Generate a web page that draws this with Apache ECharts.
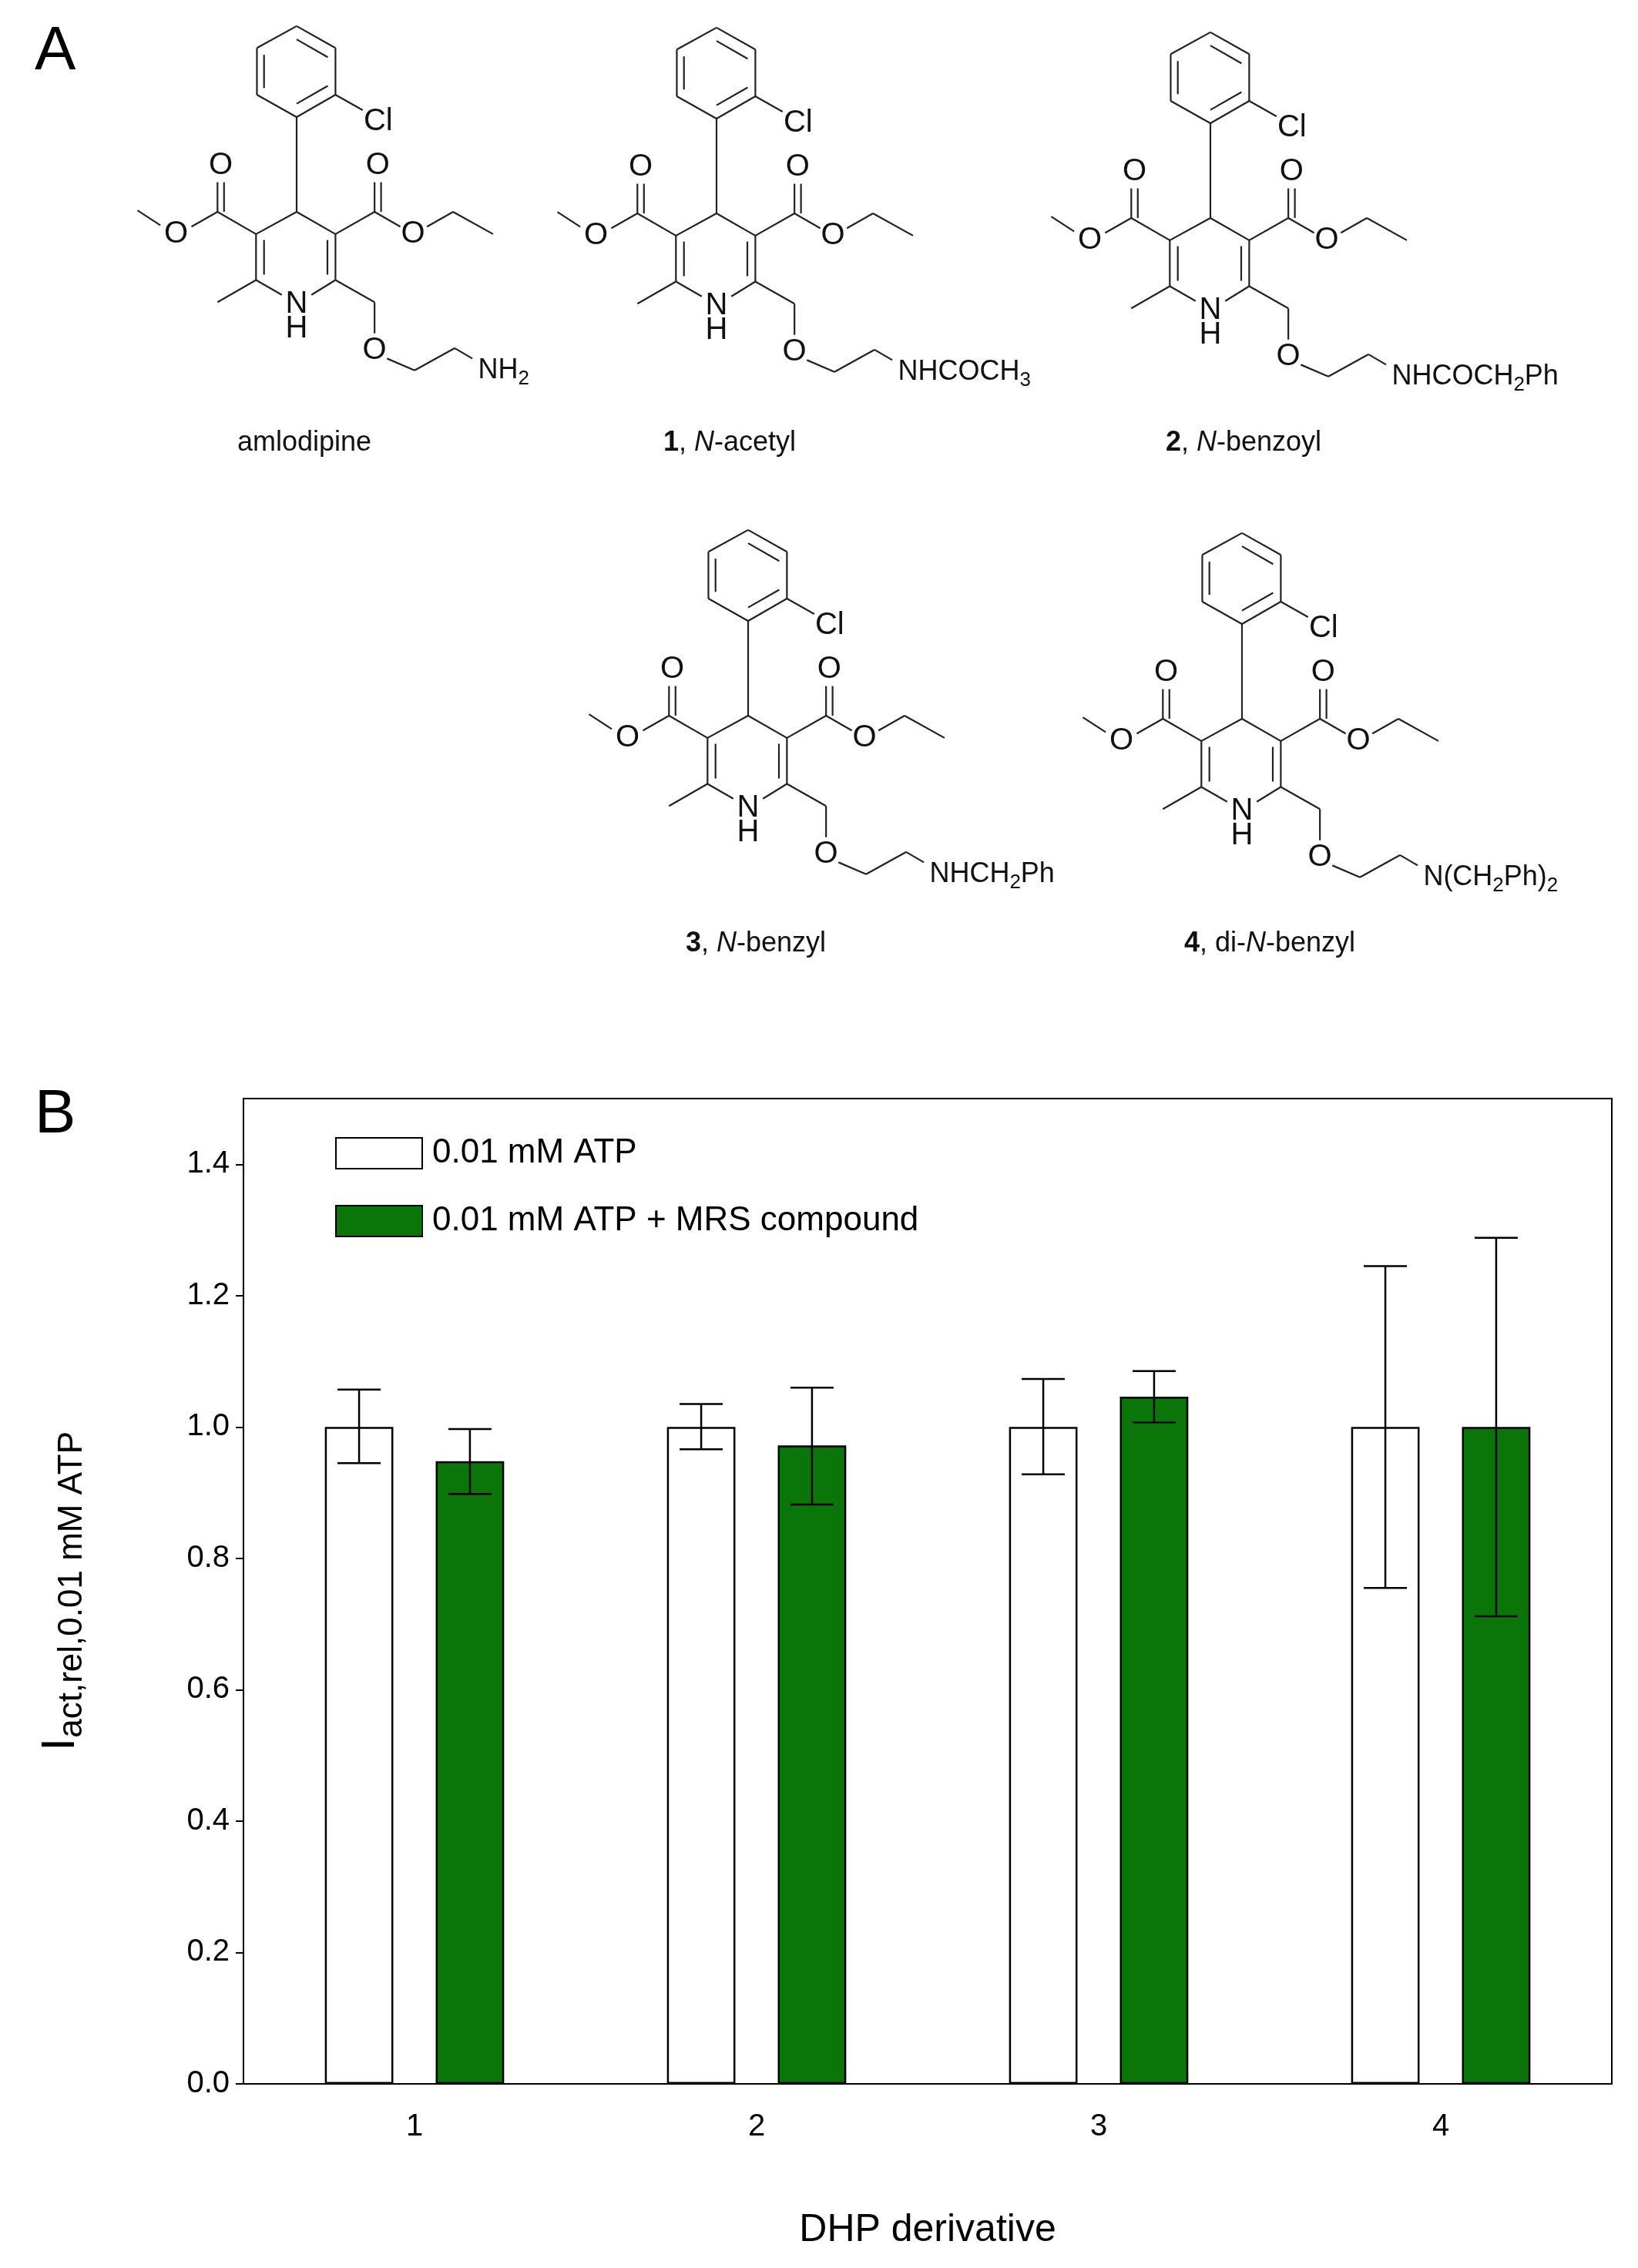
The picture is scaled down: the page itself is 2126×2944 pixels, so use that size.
<!DOCTYPE html>
<html>
<head>
<meta charset="utf-8">
<script src="https://cdn.jsdelivr.net/npm/echarts@6/dist/echarts.min.js"></script>
<style>
  html, body { margin: 0; padding: 0; background: #fff; }
  #main { width: 2126px; height: 2944px; }
</style>
</head>
<body>
<div id="main"></div>
<script>
// panel B data
const categories = ['1', '2', '3', '4'];
const atpValues = [1.0, 1.0, 1.0, 1.0];
const atpLow = [0.945, 0.966, 0.928, 0.755];
const atpHigh = [1.057, 1.035, 1.073, 1.245];
const mrsValues = [0.948, 0.972, 1.046, 1.0];
const mrsLow = [0.898, 0.882, 1.007, 0.712];
const mrsHigh = [0.997, 1.060, 1.085, 1.288];
const yTicks = [0, 0.2, 0.4, 0.6, 0.8, 1.0, 1.2, 1.4];

// panel A: compounds (C4 position of the dihydropyridine ring, tail text, caption)
const compounds = [
  { x: 385, y: 275, tail: 'NH{s|2}', cap: 'amlodipine', capX: 395, capY: 575 },
  { x: 930, y: 277, tail: 'NHCOCH{s|3}', cap: '{b|1}, {i|N}-acetyl', capX: 947, capY: 575 },
  { x: 1571, y: 283, tail: 'NHCOCH{s|2}Ph', cap: '{b|2}, {i|N}-benzoyl', capX: 1614, capY: 575 },
  { x: 971, y: 929, tail: 'NHCH{s|2}Ph', cap: '{b|3}, {i|N}-benzyl', capX: 981, capY: 1225 },
  { x: 1612, y: 933, tail: 'N(CH{s|2}Ph){s|2}', cap: '{b|4}, di-{i|N}-benzyl', capX: 1648, capY: 1225 }
];

const FONT = 'Liberation Sans, Arial, sans-serif';
const S = 1 / 2.6;

// skeleton bonds, relative to C4
const bonds = [
  [[0,-627],[131,-553]], [[131,-553],[131,-395]], [[131,-395],[0,-320]],
  [[0,-320],[-134,-395]], [[-134,-395],[-134,-553]], [[-134,-553],[0,-627]],
  [[0,-582],[105,-522]], [[105,-425],[0,-365]], [[-110,-530],[-110,-418]],
  [[131,-395],[223,-343]],
  [[0,-320],[0,0]],
  [[0,0],[-137,75]], [[0,0],[131,75]],
  [[-137,75],[-137,230]], [[-110,95],[-110,212]],
  [[131,75],[131,230]], [[104,95],[104,212]],
  [[-137,230],[-50,280]], [[131,230],[50,280]],
  [[-137,230],[-267,305]],
  [[-137,75],[-267,0]], [[-267,0],[-267,-100]], [[-245,0],[-245,-100]],
  [[-267,0],[-355,50]], [[-460,45],[-537,-5]],
  [[131,75],[263,0]], [[263,0],[263,-100]], [[285,0],[285,-100]],
  [[263,0],[350,50]], [[440,50],[528,0]], [[528,0],[663,75]],
  [[131,230],[263,305]], [[263,305],[263,410]],
  [[305,495],[398,535]], [[398,535],[533,460]], [[533,460],[593,495]]
];
const atoms = [
  ['Cl', 275, -305], ['N', 0, 312], ['H', 0, 395],
  ['O', -256, -155], ['O', -407, 75], ['O', 274, -155], ['O', 393, 75], ['O', 263, 468]
];

const graphics = [];
graphics.push({ type: 'text', left: 45, top: 28, style: { text: 'A', font: '80px ' + FONT, fill: '#000' } });
graphics.push({ type: 'text', left: 45, top: 1408, style: { text: 'B', font: '80px ' + FONT, fill: '#000' } });

const richA = {
  s: { fontSize: 26, verticalAlign: 'bottom', padding: [22, 0, 0, 0], fontFamily: FONT },
  b: { fontWeight: 'bold', fontSize: 36, fontFamily: FONT },
  i: { fontStyle: 'italic', fontSize: 36, fontFamily: FONT }
};

compounds.forEach(function (c) {
  bonds.forEach(function (b) {
    graphics.push({
      type: 'line',
      shape: { x1: c.x + b[0][0] * S, y1: c.y + b[0][1] * S, x2: c.x + b[1][0] * S, y2: c.y + b[1][1] * S },
      style: { stroke: '#222', lineWidth: 2.2 }
    });
  });
  atoms.forEach(function (a) {
    graphics.push({
      type: 'text', x: c.x + a[1] * S, y: c.y + a[2] * S,
      style: { text: a[0], font: '40px ' + FONT, fill: '#111', align: 'center', verticalAlign: 'middle' }
    });
  });
  graphics.push({
    type: 'text', x: c.x + 612 * S, y: c.y + 535 * S,
    style: { text: c.tail, fontSize: 36, fontFamily: FONT, fill: '#111', align: 'left', verticalAlign: 'middle', rich: richA }
  });
  graphics.push({
    type: 'text', x: c.capX, y: c.capY,
    style: { text: c.cap, fontSize: 36, fontFamily: FONT, fill: '#111', align: 'center', verticalAlign: 'middle', rich: richA }
  });
});

function errorSeries(name, low, high, side) {
  return {
    name: name + ' err',
    type: 'custom',
    z: 10,
    data: categories.map(function (c, i) { return [i, low[i], high[i]]; }),
    renderItem: function (params, api) {
      const band = api.size([1, 0])[0];
      const base = api.coord([api.value(0), api.value(1)]);
      const top = api.coord([api.value(0), api.value(2)]);
      const x = base[0] + side * 0.162 * band;
      const cap = 28;
      const st = { stroke: '#000', lineWidth: 2.5 };
      return {
        type: 'group',
        children: [
          { type: 'line', shape: { x1: x, y1: base[1], x2: x, y2: top[1] }, style: st },
          { type: 'line', shape: { x1: x - cap, y1: base[1], x2: x + cap, y2: base[1] }, style: st },
          { type: 'line', shape: { x1: x - cap, y1: top[1], x2: x + cap, y2: top[1] }, style: st }
        ]
      };
    }
  };
}

const chart = echarts.init(document.getElementById('main'));
chart.setOption({
  backgroundColor: '#fff',
  animation: false,
  textStyle: { fontFamily: FONT },
  graphic: graphics,
  grid: { left: 316, right: 34, top: 1426, bottom: 239, show: true, borderColor: '#000', borderWidth: 2 },
  legend: {
    orient: 'vertical', left: 430, top: 1470, itemWidth: 112, itemHeight: 40, itemGap: 44,
    icon: 'rect',
    data: ['0.01 mM ATP', '0.01 mM ATP + MRS compound'],
    textStyle: { fontSize: 44, color: '#000', fontFamily: FONT, padding: [0, 0, 0, 8] }
  },
  xAxis: {
    type: 'category', data: categories,
    axisLine: { lineStyle: { color: '#000', width: 2 } },
    axisTick: { show: false },
    axisLabel: { fontSize: 40, color: '#000', margin: 36 },
    name: 'DHP derivative', nameLocation: 'middle', nameGap: 165,
    nameTextStyle: { fontSize: 50, color: '#000' }
  },
  yAxis: {
    type: 'value', min: 0, max: 1.5, interval: 0.2,
    axisLine: { show: true, lineStyle: { color: '#000', width: 2 } },
    axisTick: { show: true, length: 10, lineStyle: { color: '#000', width: 2 } },
    splitLine: { show: false },
    axisLabel: { fontSize: 40, color: '#000', margin: 18, showMaxLabel: false,
      formatter: function (v) { return yTicks.indexOf(Math.round(v * 10) / 10) >= 0 ? v.toFixed(1) : ''; } },
    name: '{m|I}{s|act,rel,0.01 mM ATP}', nameLocation: 'middle', nameGap: 200, nameRotate: 90,
    nameTextStyle: {
      color: '#000',
      rich: {
        m: { fontSize: 62, fontFamily: FONT },
        s: { fontSize: 44, fontFamily: FONT, verticalAlign: 'bottom', padding: [30, 0, 0, 0] }
      }
    }
  },
  series: [
    { name: '0.01 mM ATP', type: 'bar', data: atpValues, barWidth: '20%', barGap: '62%',
      itemStyle: { color: '#fff', borderColor: '#000', borderWidth: 2.5 } },
    { name: '0.01 mM ATP + MRS compound', type: 'bar', data: mrsValues, barWidth: '20%', barGap: '62%',
      itemStyle: { color: '#0a760a', borderColor: '#000', borderWidth: 2.5 } },
    errorSeries('atp', atpLow, atpHigh, -1),
    errorSeries('mrs', mrsLow, mrsHigh, 1)
  ]
});
</script>
</body>
</html>
